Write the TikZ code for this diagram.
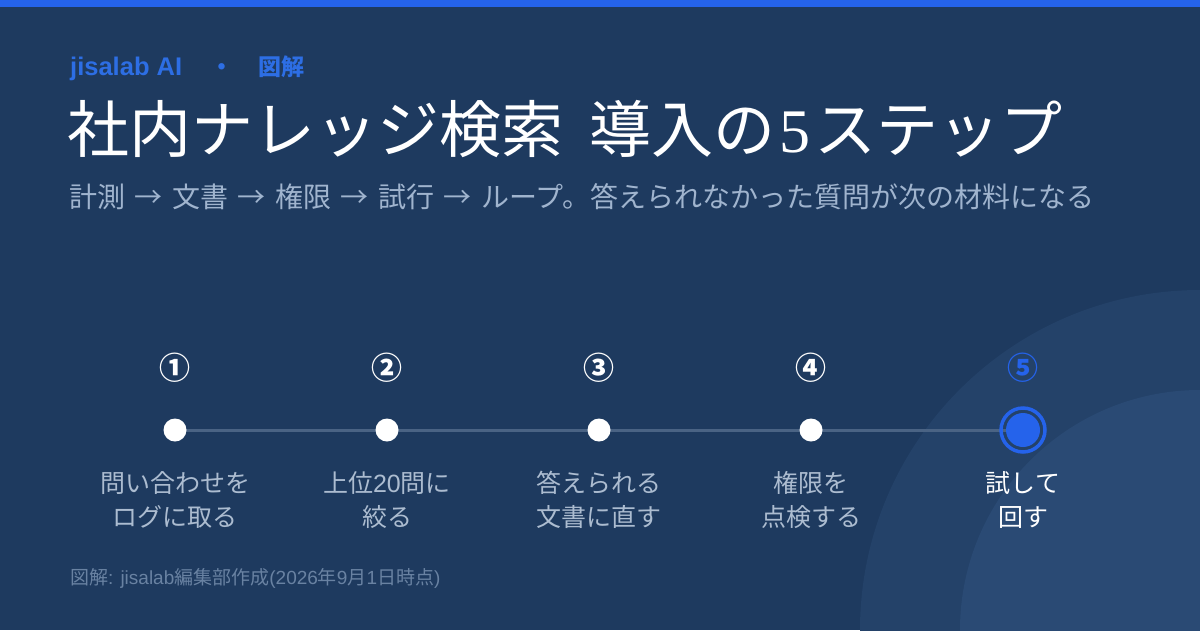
\documentclass[tikz,border=0pt]{standalone}
\usepackage{fontspec}
\setmainfont{Noto Sans CJK JP}
\newfontfamily\latn{Liberation Sans}
\newfontfamily\latserif{Liberation Serif}
\newcommand\lt[1]{{\latn #1}}
\newcommand\arr{\hspace{8pt}\makebox[31pt]{→}\hspace{8pt}}
\definecolor{bg}{RGB}{30,58,95}
\definecolor{ringA}{RGB}{36,66,105}
\definecolor{ringB}{RGB}{42,74,116}
\definecolor{accent}{RGB}{37,99,235}
\definecolor{hdr}{RGB}{45,110,228}
\definecolor{subc}{RGB}{160,180,206}
\definecolor{labc}{RGB}{172,188,208}
\definecolor{footc}{RGB}{105,130,162}
\definecolor{track}{RGB}{74,99,132}
\tikzset{
  numtxt/.style={text=white,font=\fontsize{31}{33}\selectfont\bfseries,inner sep=0pt,anchor=center},
  labtxt/.style={text=labc,font=\fontsize{25}{34}\selectfont,align=center,inner sep=0pt,anchor=north},
  dot/.style={circle,fill=white,minimum size=23pt,inner sep=0pt},
  hdrtxt/.style={inner sep=0pt,text=hdr,font=\fontsize{23}{26}\selectfont\bfseries},
}
\begin{document}
\begin{tikzpicture}[x=1pt,y=-1pt]
\useasboundingbox (0,0) rectangle (1200,630);
\fill[bg] (0,0) rectangle (1200,630);
\begin{scope}
\clip (0,0) rectangle (1200,630);
\fill[ringA] (1200,630) circle[radius=340];
\fill[ringB] (1200,630) circle[radius=240];
\end{scope}
\fill[accent] (0,0) rectangle (1200,7);
% header
\node[hdrtxt,anchor=base west,font=\fontsize{25.5}{26}\selectfont\latn\bfseries] (brand) at (70,75) {jisalab AI};
\node[hdrtxt,anchor=base] (sep) at (222,75) {・};
\node[hdrtxt,anchor=base west] (kind) at (258,75) {図解};
% title
\node[anchor=base west,inner sep=0pt,text=white,font=\fontsize{62}{64}\selectfont] (title) at (67,152) {社内ナレッジ検索\hspace{26pt}導入の\hspace{4pt}{\latserif 5}\hspace{4pt}ステップ};
\node[anchor=base west,inner sep=0pt,text=subc,font=\fontsize{28}{30}\selectfont] (sub) at (69,207) {計測\arr 文書\arr 権限\arr 試行\arr ループ。答えられなかった質問が次の材料になる};
% timeline
\coordinate (p1) at (175,430);
\coordinate (p2) at (387,430);
\coordinate (p3) at (599,430);
\coordinate (p4) at (811,430);
\coordinate (p5) at (1023,430);
\draw[track,line width=3pt] (p1) -- (p5);
\node[dot] (d1) at (p1) {};
\node[dot] (d2) at (p2) {};
\node[dot] (d3) at (p3) {};
\node[dot] (d4) at (p4) {};
\draw[accent,line width=3.5pt] (p5) circle[radius=22];
\node[circle,fill=accent,minimum size=34pt,inner sep=0pt] (d5) at (p5) {};
\node[numtxt] (n1) at (175,368) {①};
\node[numtxt] (n2) at (387,368) {②};
\node[numtxt] (n3) at (599,368) {③};
\node[numtxt] (n4) at (811,368) {④};
\node[numtxt,text=accent] (n5) at (1023,368) {⑤};
\node[labtxt] (l1) at (175,471) {問い合わせを\\ログに取る};
\node[labtxt] (l2) at (387,471) {上位\lt{20}問に\\絞る};
\node[labtxt] (l3) at (599,471) {答えられる\\文書に直す};
\node[labtxt] (l4) at (811,471) {権限を\\点検する};
\node[labtxt,text=white] (l5) at (1023,471) {試して\\回す};
% footer
\node[anchor=base west,inner sep=0pt,text=footc,font=\fontsize{19}{21}\selectfont] (foot) at (70,584) {図解\lt{: jisalab}編集部作成\lt{(2026}年\lt{9}月\lt{1}日時点\lt{)}};
\end{tikzpicture}
\end{document}
